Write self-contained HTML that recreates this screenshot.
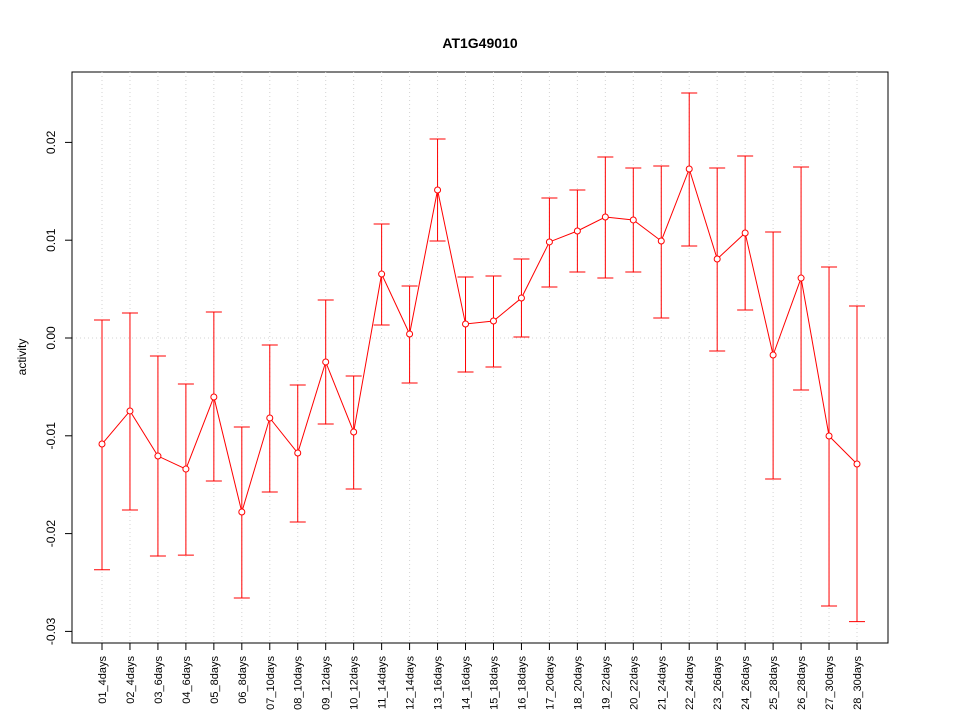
<!DOCTYPE html>
<html><head><meta charset="utf-8"><style>
html,body{margin:0;padding:0;background:#fff;}
svg{display:block;font-family:"Liberation Sans",Arial,sans-serif;}
</style></head><body>
<svg id="chart" width="960" height="720" viewBox="0 0 960 720">
<text x="480" y="48" text-anchor="middle" font-size="14" font-weight="bold">AT1G49010</text>
<rect x="72" y="72" width="816" height="571" fill="none" stroke="#000"/>
<text transform="translate(26,357) rotate(-90)" text-anchor="middle" font-size="12">activity</text>
<g id="grid"></g><g id="axes"></g><g id="marks"></g>
</svg>
<script>
const categories=["01_4days","02_4days","03_6days","04_6days","05_8days","06_8days","07_10days","08_10days","09_12days","10_12days","11_14days","12_14days","13_16days","14_16days","15_18days","16_18days","17_20days","18_20days","19_22days","20_22days","21_24days","22_24days","23_26days","24_26days","25_28days","26_28days","27_30days","28_30days"];
const means=[-0.01084,-0.00746,-0.01207,-0.0134,-0.00603,-0.01779,-0.00818,-0.01176,-0.00245,-0.00961,0.00654,0.00041,0.01513,0.00143,0.00174,0.00409,0.00982,0.01094,0.01237,0.01207,0.00992,0.01728,0.00808,0.01074,-0.00174,0.00613,-0.01002,-0.01288];
const uppers=[0.00184,0.00256,-0.00184,-0.0047,0.00266,-0.0091,-0.00072,-0.0048,0.00389,-0.00389,0.01166,0.00532,0.02035,0.00624,0.00634,0.00808,0.01431,0.01513,0.01851,0.01738,0.01759,0.02505,0.01738,0.01861,0.01084,0.01748,0.00726,0.00327];
const lowers=[-0.0237,-0.01759,-0.02229,-0.0222,-0.01462,-0.02658,-0.01575,-0.01881,-0.00879,-0.01544,0.00133,-0.0046,0.00992,-0.00348,-0.00297,0.0001,0.00521,0.00675,0.00613,0.00675,0.00204,0.00941,-0.00133,0.00286,-0.01442,-0.00532,-0.0274,-0.029];
const yTicks=[-0.03,-0.02,-0.01,0,0.01,0.02];
const yTickLabels=["-0.03","-0.02","-0.01","0.00","0.01","0.02"];
const NS="http://www.w3.org/2000/svg";
function yScale(v){return 338-v*9780;}
function xScale(i){return 102+i*(857-102)/(categories.length-1);}
function mk(parent,tag,attrs){const e=document.createElementNS(NS,tag);for(const k in attrs)e.setAttribute(k,attrs[k]);document.getElementById(parent).appendChild(e);return e;}
categories.forEach((c,i)=>{
  const g=mk('grid','line',{x1:xScale(i),x2:xScale(i),y1:72,y2:643,stroke:'#d3d3d3','stroke-dasharray':'1,3'});
  
  
  const t=mk('axes','line',{x1:xScale(i),x2:xScale(i),y1:643,y2:650,stroke:'#000'});
  
  
  const l=mk('axes','text',{transform:`translate(${xScale(i)+4},656) rotate(-90)`,'text-anchor':'end','font-size':'11'});
  l.textContent=c;
  
  
});
const z=mk('grid','line',{x1:72,x2:888,y1:yScale(0),y2:yScale(0),stroke:'#d3d3d3','stroke-dasharray':'1,3'});


mk('axes','line',{x1:72,x2:72,y1:yScale(yTicks[0]),y2:yScale(yTicks[yTicks.length-1]),stroke:'#000'});
yTicks.forEach((v,i)=>{
  const t=mk('axes','line',{x1:65,x2:72,y1:yScale(v),y2:yScale(v),stroke:'#000'});
  
  
  const l=mk('axes','text',{transform:`translate(55,${yScale(v)}) rotate(-90)`,'text-anchor':'middle','font-size':'12'});
  l.textContent=yTickLabels[i];
  
  
});
const pts=means.map((m,i)=>xScale(i)+','+yScale(m)).join(' ');
const pl=mk('marks','polyline',{points:pts,fill:'none',stroke:'#ff0000','stroke-width':'1'});


means.forEach((m,i)=>{
  const x=xScale(i);
  const e=mk('marks','path',{d:`M${x},${yScale(uppers[i])}V${yScale(lowers[i])}M${x-8},${yScale(uppers[i])}H${x+8}M${x-8},${yScale(lowers[i])}H${x+8}`,stroke:'#ff0000',fill:'none'});
  
  
  const c=mk('marks','circle',{cx:x,cy:yScale(m),r:3,fill:'#fff',stroke:'#ff0000'});
  
  
});
</script>
</body></html>
